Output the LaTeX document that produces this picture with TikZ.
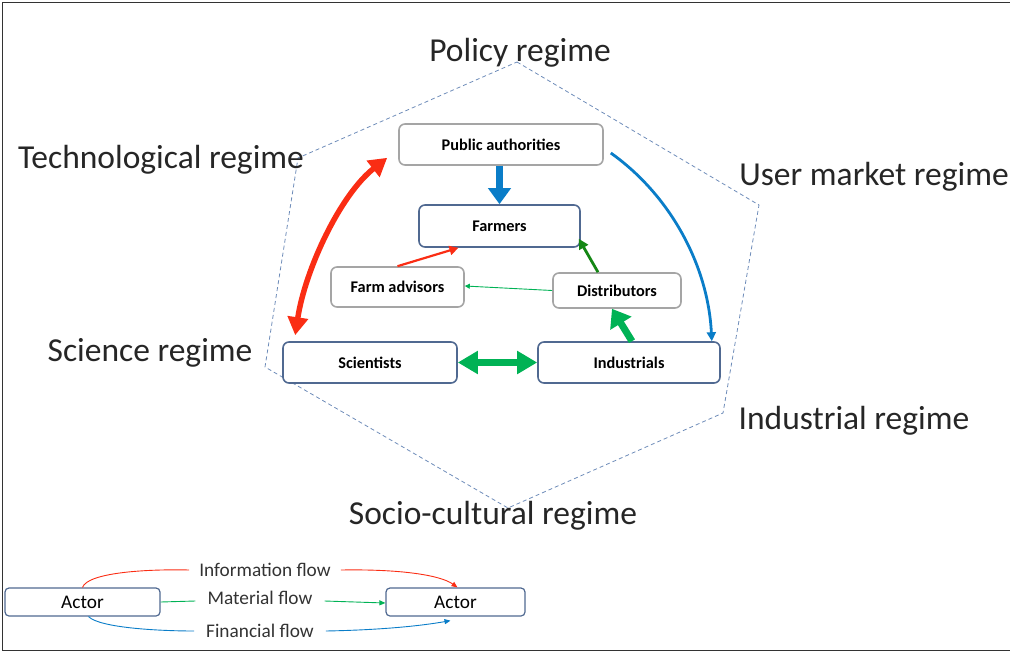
\documentclass[tikz,border=0pt]{standalone}
\usepackage{fontspec}
\setmainfont{Carlito}
\usetikzlibrary{arrows.meta}
\definecolor{bred}{RGB}{250,45,20}
\definecolor{bblue}{RGB}{10,125,200}
\definecolor{bgreen}{RGB}{0,178,85}
\definecolor{dgreen}{RGB}{20,135,20}
\definecolor{edgeblue}{RGB}{80,105,145}
\definecolor{edgegray}{RGB}{165,165,165}
\definecolor{hexcol}{RGB}{110,140,185}
\tikzset{
  regime/.style={font=\fontsize{33.5}{38}\selectfont, text=black!85, inner sep=0pt},
  graybox/.style={draw=edgegray, line width=1.6pt, rounded corners=6pt, fill=white, font=\fontsize{16.3}{18}\selectfont\bfseries, inner sep=0pt},
  bluebox/.style={draw=edgeblue, line width=1.6pt, rounded corners=6pt, fill=white, font=\fontsize{16.3}{18}\selectfont\bfseries, inner sep=0pt},
  legbox/.style={draw=edgeblue, line width=1.2pt, rounded corners=4pt, fill=white, font=\fontsize{19.3}{21}\selectfont, inner sep=0pt},
  legtext/.style={font=\fontsize{19.3}{21}\selectfont, text=black!80, inner sep=0pt},
}
\begin{document}
\begin{tikzpicture}[x=1pt,y=-1pt]
\useasboundingbox (0,0) rectangle (1010,653);
% frame
\draw[black!80, line width=1.6pt] (1010,2.5) -- (2.5,2.5) -- (2.5,650.5) -- (1010,650.5);
% hexagon
\draw[hexcol, line width=0.8pt, dash pattern=on 4pt off 3pt]
  (517,62) -- (759,205) -- (723,413) -- (508,508) -- (265,367) -- (298,158) -- cycle;
% regime labels
\node[regime] (policy) at (520,53) {Policy regime};
\node[regime] (tech) at (161,160) {Technological regime};
\node[regime] (user) at (874,177) {User market regime};
\node[regime] (science) at (150,353) {Science regime};
\node[regime] (indreg) at (854,421) {Industrial regime};
\node[regime] (socio) at (493,516) {Socio-cultural regime};
% actors
\node[graybox, minimum width=204pt, minimum height=41pt] (pa) at (501,144.5) {Public authorities};
\node[bluebox, minimum width=161pt, minimum height=42pt] (farm) at (499.5,226) {Farmers};
\node[graybox, minimum width=133pt, minimum height=40pt] (fa) at (397.5,287) {Farm advisors};
\node[graybox, minimum width=128pt, minimum height=35pt] (dist) at (617,290.5) {Distributors};
\node[bluebox, minimum width=174pt, minimum height=41pt] (sci) at (370,362.5) {Scientists};
\node[bluebox, minimum width=182pt, minimum height=41pt] (ind) at (629,362.5) {Industrials};
% connectors
\draw[bred, line width=5.5pt, {Triangle[length=18pt,width=20pt]}-{Triangle[length=18pt,width=20pt]}]
  ([shift={(-11,-8)}]pa.south west) .. controls (340,195) and (305,270) .. ([shift={(13,-6)}]sci.north west);
\draw[bblue, line width=7pt, -{Triangle[length=16pt,width=22pt]}] (pa.south -| farm.north) -- (farm.north);
\draw[bblue, line width=2.8pt, -{Triangle[length=9pt,width=9pt]}]
  ([shift={(7,8.5)}]pa.east) .. controls (670,195) and (708,265) .. ([shift={(-9,0)}]ind.north east);
\draw[bred, line width=2.2pt, -{Triangle[length=9pt,width=9pt]}] (fa.north) -- ([xshift=-41pt]farm.south);
\draw[dgreen, line width=2.8pt, -{Triangle[length=10pt,width=10pt]}] ([xshift=-19pt]dist.north) -- ([shift={(-2,-9)}]farm.south east);
\draw[bgreen, line width=0.9pt, -{Triangle[length=5pt,width=5pt]}] (dist.west) -- ([yshift=1pt]fa.east);
\draw[bgreen, line width=7pt, -{Triangle[length=17pt,width=24pt]}] ([xshift=3pt]ind.north) -- ([xshift=-5pt]dist.south);
\draw[bgreen, line width=7pt, {Triangle[length=20pt,width=22pt]}-{Triangle[length=20pt,width=22pt]}] (sci.east) -- (ind.west);
% legend
\node[legbox, minimum width=155pt, minimum height=28pt] (a1) at (82.5,602) {Actor};
\node[legbox, minimum width=139pt, minimum height=28pt] (a2) at (455.5,602) {Actor};
\node[legtext, inner xsep=10pt, inner ysep=3pt] (info) at (265,570) {Information flow};
\node[legtext, inner xsep=12pt, inner ysep=3pt] (mat) at (260,598) {Material flow};
\node[legtext, inner xsep=12pt, inner ysep=3pt] (fin) at (260,631) {Financial flow};
\draw[bred, line width=0.9pt] (a1.north) .. controls (88,572) and (150,569) .. (info.west);
\draw[bred, line width=0.9pt, -{Triangle[length=6pt,width=5pt]}] (info.east) .. controls (400,569) and (440,575) .. ([xshift=2pt]a2.north);
\draw[bgreen, line width=0.9pt] (a1.east) -- ([yshift=-3pt]mat.west);
\draw[bgreen, line width=0.9pt, -{Triangle[length=6pt,width=5pt]}] ([yshift=-3pt]mat.east) -- ([yshift=-1pt]a2.west);
\draw[bblue, line width=0.9pt] ([xshift=6pt]a1.south) .. controls (100,628) and (160,631) .. (fin.west);
\draw[bblue, line width=0.9pt, -{Triangle[length=6pt,width=5pt]}] (fin.east) .. controls (380,630) and (420,626) .. ([xshift=-5pt,yshift=-4pt]a2.south);
\end{tikzpicture}
\end{document}
